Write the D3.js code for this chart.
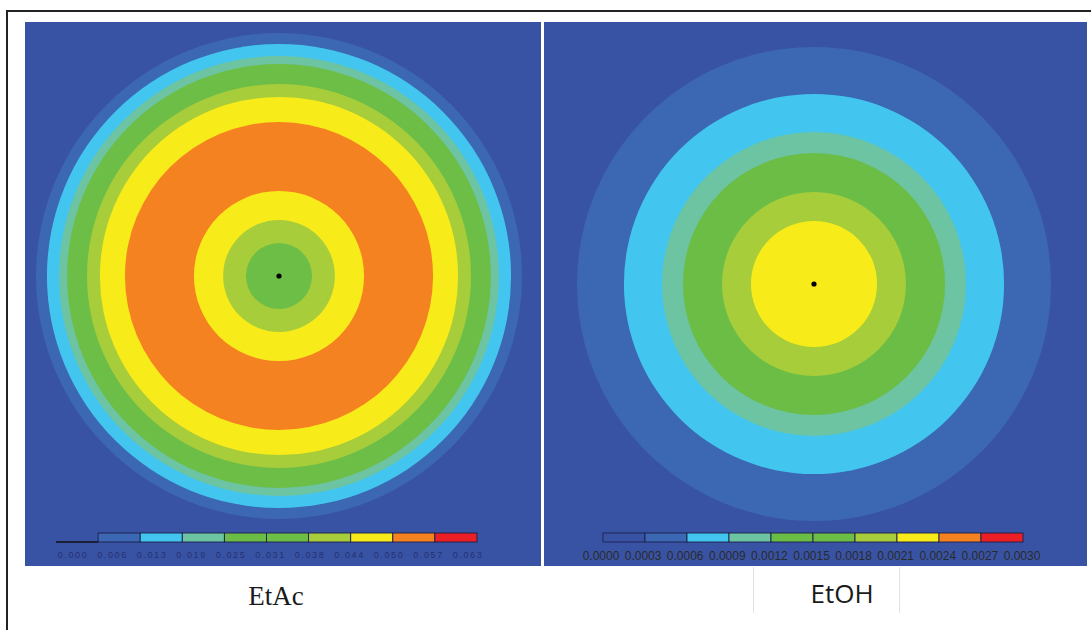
<!DOCTYPE html>
<html>
<head>
<meta charset="utf-8">
<script src="https://cdn.jsdelivr.net/npm/d3@7"></script>
<style>
  html, body { margin: 0; padding: 0; background: #fff; }
  svg { display: block; }
</style>
</head>
<body>
<svg id="chart"></svg>
<script>
// colour levels of the contour legend (index 0..9)
const levelColors = ['#3953a4', '#3c67b2', '#42c6ef', '#6cc4a3', '#6bbd45', '#6dbe47', '#a8cd3a', '#f8eb1a', '#f58220', '#ec2024'];

// EtAc: outer radius of each band (fraction of sample radius) and its level
const etacRadius = [0.136, 0.230, 0.350, 0.634, 0.737, 0.790, 0.872, 0.905, 0.955, 1.0];
const etacLevel  = [5, 6, 7, 8, 7, 6, 5, 3, 2, 1];
const etacTicks  = ['0.000', '0.006', '0.013', '0.019', '0.025', '0.031', '0.038', '0.044', '0.050', '0.057', '0.063'];

// EtOH
const etohRadius = [0.266, 0.388, 0.553, 0.641, 0.802, 1.0];
const etohLevel  = [7, 6, 4, 3, 2, 1];
const etohTicks  = ['0.0000', '0.0003', '0.0006', '0.0009', '0.0012', '0.0015', '0.0018', '0.0021', '0.0024', '0.0027', '0.0030'];

const W = 1091, H = 630;
const svg = d3.select('#chart').attr('width', W).attr('height', H);

// frame
svg.append('line').attr('x1', 7).attr('y1', 11).attr('x2', W).attr('y2', 11)
  .attr('stroke', '#222').attr('stroke-width', 2);
svg.append('line').attr('x1', 7).attr('y1', 10).attr('x2', 7).attr('y2', H)
  .attr('stroke', '#222').attr('stroke-width', 2);

const color = d3.scaleOrdinal().domain(d3.range(10)).range(levelColors);

function drawPanel(opt) {
  const g = svg.append('g');
  g.append('rect')
    .attr('x', opt.x0).attr('y', 22)
    .attr('width', opt.x1 - opt.x0).attr('height', 566 - 22)
    .attr('fill', levelColors[0]);

  const r = d3.scaleLinear().domain([0, 1]).range([0, opt.R]);
  const bands = opt.radius.map((d, i) => ({ r: d, level: opt.level[i] }));
  // draw from outside in
  g.selectAll('circle.band')
    .data(bands.slice().reverse())
    .join('circle')
    .attr('class', 'band')
    .attr('cx', opt.cx).attr('cy', opt.cy)
    .attr('r', d => r(d.r))
    .attr('fill', d => color(d.level));

  g.append('circle').attr('cx', opt.cx).attr('cy', opt.cy).attr('r', 2.6).attr('fill', '#000');

  // colour bar
  const bx = d3.scaleLinear().domain([0, 10]).range(opt.bar);
  g.selectAll('rect.seg')
    .data(d3.range(opt.firstEmpty ? 1 : 0, 10))
    .join('rect')
    .attr('class', 'seg')
    .attr('x', d => bx(d)).attr('y', 533)
    .attr('width', d => bx(d + 1) - bx(d)).attr('height', 9)
    .attr('fill', d => color(d))
    .attr('stroke', '#1b1f4a').attr('stroke-width', 0.9);
  if (opt.firstEmpty) {
    g.append('line').attr('x1', bx(0)).attr('x2', bx(1)).attr('y1', 542).attr('y2', 542)
      .attr('stroke', '#111').attr('stroke-width', 1.5);
  }
  const lx = d3.scaleLinear().domain([0, 10]).range(opt.labelRange);
  g.selectAll('text.tick')
    .data(opt.ticks)
    .join('text')
    .attr('class', 'tick')
    .attr('x', (d, i) => lx(i)).attr('y', opt.tickY)
    .attr('text-anchor', 'middle')
    .attr('font-family', 'Arial, "Liberation Sans", sans-serif')
    .attr('font-size', opt.tickSize)
    .attr('letter-spacing', opt.tickSpacing)
    .attr('fill', opt.tickColor)
    .attr('opacity', opt.tickOpacity)
    .text(d => d);
}

drawPanel({
  x0: 25, x1: 541, cx: 279, cy: 276, R: 243,
  radius: etacRadius, level: etacLevel, ticks: etacTicks,
  bar: [56, 477], firstEmpty: true, labelRange: [73, 468],
  tickSize: 9, tickSpacing: 1.6, tickY: 558,
  tickColor: '#1a2560', tickOpacity: 0.7
});
drawPanel({
  x0: 544, x1: 1087, cx: 814, cy: 284, R: 237,
  radius: etohRadius, level: etohLevel, ticks: etohTicks,
  bar: [603, 1023], firstEmpty: false, labelRange: [601, 1022],
  tickSize: 12, tickSpacing: 0, tickY: 559.5,
  tickColor: '#2a2a2a', tickOpacity: 1
});

// captions
svg.append('line').attr('x1', 753.5).attr('x2', 753.5).attr('y1', 567).attr('y2', 613)
  .attr('stroke', '#e2e2e2');
svg.append('line').attr('x1', 899.5).attr('x2', 899.5).attr('y1', 567).attr('y2', 613)
  .attr('stroke', '#e2e2e2');
svg.append('text').attr('x', 276).attr('y', 605)
  .attr('text-anchor', 'middle')
  .attr('font-family', '"Liberation Serif", "Times New Roman", serif')
  .attr('font-size', 27).attr('fill', '#1a1a1a')
  .text('EtAc');
svg.append('text').attr('x', 842).attr('y', 603)
  .attr('text-anchor', 'middle')
  .attr('font-family', '"Open Sans", sans-serif')
  .attr('font-size', 26).attr('fill', '#1a1a1a')
  .text('EtOH');
</script>
</body>
</html>
